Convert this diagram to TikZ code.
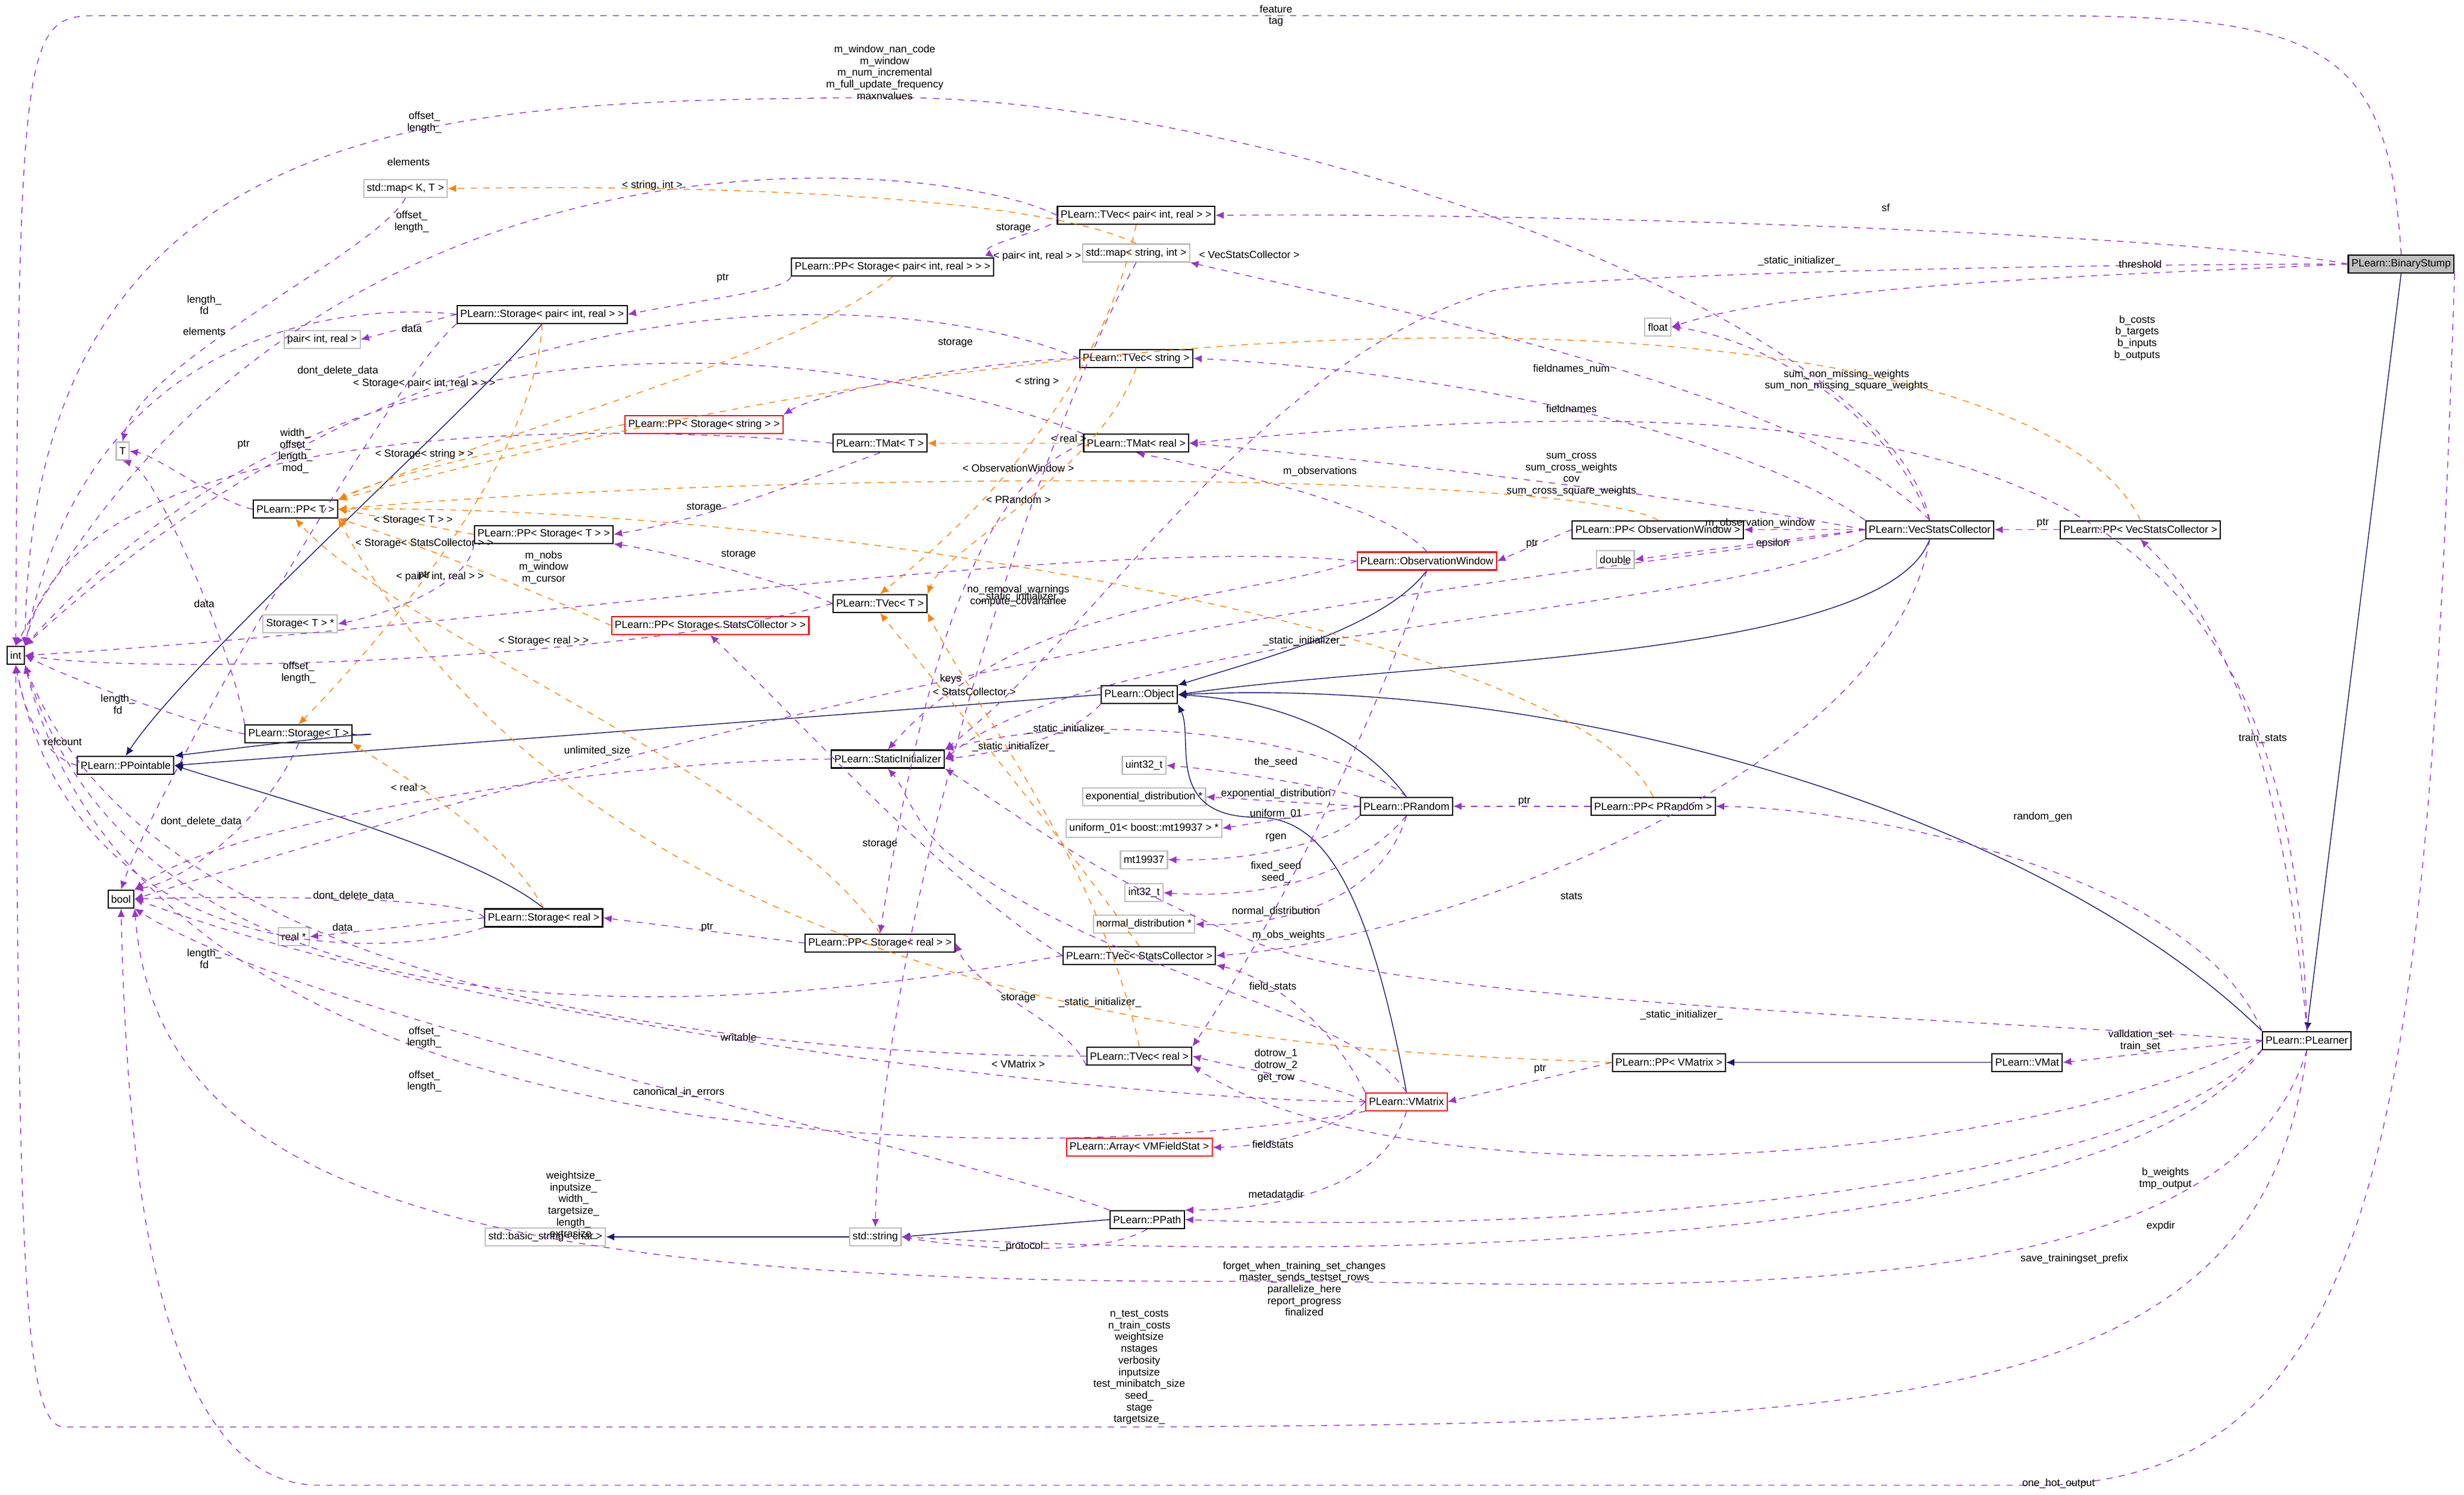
\documentclass[tikz,border=0pt]{standalone}
\usepackage{fontspec}
\setmainfont{Liberation Sans}
\usetikzlibrary{arrows.meta}
\begin{document}
\begin{tikzpicture}[x=0.02643cm,y=-0.02643cm,
 every node/.style={font=\fontsize{5}{5.6}\selectfont},
 cls/.style={draw=black,semithick,minimum height=0.30cm,inner sep=1.5pt,fill=white},
 gcls/.style={draw=black!25,semithick,minimum height=0.30cm,inner sep=1.5pt,fill=white},
 rcls/.style={draw=red,semithick,minimum height=0.30cm,inner sep=1.5pt,fill=white},
 dep/.style={draw={rgb,255:red,153;green,50;blue,204},dashed,thin,-{Latex[length=4pt,width=3.5pt]}},
 tmpl/.style={draw=orange,dashed,thin,-{Latex[length=4pt,width=3.5pt]}},
 inh/.style={draw={rgb,255:red,25;green,25;blue,112},thin,-{Latex[length=4pt,width=3.5pt]}},
 lbl/.style={align=center,inner sep=0pt}]
\useasboundingbox (0,0) rectangle (1568,951);
% nodes
\node[cls,fill=black!25] (bs) at (1528,168) {PLearn::BinaryStump};
\node[cls] (pl) at (1468,662) {PLearn::PLearner};
\node[cls] (vmat) at (1290,676) {PLearn::VMat};
\node[cls] (ppvm) at (1062,676) {PLearn::PP< VMatrix >};
\node[rcls] (vm) at (895,701) {PLearn::VMatrix};
\node[cls] (ppath) at (730,776) {PLearn::PPath};
\node[gcls] (str) at (557,787) {std::string};
\node[gcls] (bstr) at (347,787) {std::basic\_string< char >};
\node[rcls] (arr) at (725,730) {PLearn::Array< VMFieldStat >};
\node[cls] (tvr) at (725,672) {PLearn::TVec< real >};
\node[gcls] (nd) at (728,588) {normal\_distribution *};
\node[gcls] (i32) at (728,568) {int32\_t};
\node[gcls] (mt) at (728,547) {mt19937};
\node[gcls] (u01) at (728,527) {uniform\_01< boost::mt19937 > *};
\node[gcls] (ed) at (728,507) {exponential\_distribution *};
\node[gcls] (u32) at (728,487) {uint32\_t};
\node[cls] (prand) at (895,513) {PLearn::PRandom};
\node[cls] (pprand) at (1052,513) {PLearn::PP< PRandom >};
\node[cls] (tvsc) at (725,608) {PLearn::TVec< StatsCollector >};
\node[cls] (ppsr) at (560,600) {PLearn::PP< Storage< real > >};
\node[cls] (si) at (565,483) {PLearn::StaticInitializer};
\node[cls] (obj) at (725,442) {PLearn::Object};
\node[rcls] (ow) at (908,357) {PLearn::ObservationWindow};
\node[cls] (ppow) at (1055,337) {PLearn::PP< ObservationWindow >};
\node[cls] (vsc) at (1228,337) {PLearn::VecStatsCollector};
\node[cls] (ppvsc) at (1362,337) {PLearn::PP< VecStatsCollector >};
\node[gcls] (dbl) at (1028,356) {double};
\node[gcls] (flt) at (1055,208) {float};
\node[cls] (tvp) at (723,137) {PLearn::TVec< pair< int, real > >};
\node[gcls] (msi) at (723,161) {std::map< string, int >};
\node[cls] (tvs) at (723,228) {PLearn::TVec< string >};
\node[cls] (tmr) at (723,282) {PLearn::TMat< real >};
\node[cls] (tmt) at (560,282) {PLearn::TMat< T >};
\node[cls] (tvt) at (560,384) {PLearn::TVec< T >};
\node[cls] (ppsp) at (568,170) {PLearn::PP< Storage< pair< int, real > > >};
\node[gcls] (mkt) at (258,120) {std::map< K, T >};
\node[cls] (stp) at (345,200) {PLearn::Storage< pair< int, real > >};
\node[gcls] (pir) at (205,216) {pair< int, real >};
\node[rcls] (ppss) at (448,270) {PLearn::PP< Storage< string > >};
\node[gcls] (T) at (78,287) {T};
\node[cls] (ppt) at (188,324) {PLearn::PP< T >};
\node[cls] (ppst) at (346,340) {PLearn::PP< Storage< T > >};
\node[gcls] (stps) at (191,397) {Storage< T > *};
\node[rcls] (ppssc) at (452,398) {PLearn::PP< Storage< StatsCollector > >};
\node[cls] (int) at (10,417) {int};
\node[cls] (ppo) at (80,487) {PLearn::PPointable};
\node[cls] (stt) at (190,467) {PLearn::Storage< T >};
\node[cls] (bool) at (77,572) {bool};
\node[gcls] (rp) at (187,596) {real *};
\node[cls] (str_r) at (346,584) {PLearn::Storage< real >};

% inheritance
\draw[inh] (bs.south) -- (pl.north);
\draw[inh] (pl.north west) .. controls (1300,520) and (1000,430) .. (obj.east);
\draw[inh] (vsc.south) .. controls (1200,420) and (900,420) .. (obj.east);
\draw[inh] (ow.south) .. controls (880,400) and (800,420) .. (obj.north east);
\draw[inh] (prand.north) .. controls (860,460) and (800,445) .. (obj.east);
\draw[inh] (vm.north) .. controls (870,560) and (840,520) .. (800,520) .. controls (740,520) and (760,470) .. (obj.south east);
\draw[inh] (obj.west) -- (ppo.east);
\draw[inh] (stt.east) .. controls (230,470) and (280,460) .. (ppo.north east);
\draw[inh] (str_r.north) .. controls (300,540) and (150,500) .. (ppo.east);
\draw[inh] (stp.south) .. controls (300,260) and (120,420) .. (ppo.north);
\draw[inh] (vmat.west) -- (ppvm.east);
\draw[inh] (ppath.west) -- (str.east);
\draw[inh] (str.west) -- (bstr.east);

% BinaryStump dependencies
\draw[dep] (bs.north) .. controls (1520,30) and (1480,10) .. (1300,10) -- (60,10) .. controls (15,10) and (12,30) .. (int.north);
\node[lbl] (l1) at (812,10) {feature\\tag};
\draw[dep] (bs.west) .. controls (1400,150) and (1000,135) .. (tvp.east);
\node[lbl] (l2) at (1200,132) {sf};
\draw[dep] (bs.west) .. controls (1300,168) and (1000,175) .. (950,185) .. controls (800,230) and (700,400) .. (si.north east);
\node[lbl] (l3) at (1145,166) {\_static\_initializer\_};
\draw[dep] (bs.west) .. controls (1350,175) and (1150,180) .. (flt.east);
\node[lbl] (l4) at (1362,168) {threshold};
\draw[dep] (bs.south east) .. controls (1545,700) and (1520,940) .. (1300,945) -- (200,945) .. controls (90,940) and (80,700) .. (bool.south);
\node[lbl] (l5) at (1310,944) {one\_hot\_output};

% PLearner
\draw[dep] (pl.west) -- (vmat.east);
\node[lbl] (l6) at (1362,662) {validation\_set\\train\_set};
\draw[dep] (pl.north) .. controls (1450,450) and (1400,380) .. (ppvsc.south);
\node[lbl] (l7) at (1440,470) {train\_stats};
\draw[dep] (pl.north west) .. controls (1400,560) and (1200,515) .. (pprand.east);
\node[lbl] (l8) at (1300,520) {random\_gen};
\draw[dep] (pl.west) .. controls (1300,740) and (900,770) .. (tvr.south east);
\node[lbl] (l9) at (1378,750) {b\_weights\\tmp\_output};
\draw[dep] (pl.south west) .. controls (1350,760) and (1000,785) .. (ppath.east);
\node[lbl] (l10) at (1375,780) {expdir};
\draw[dep] (pl.south west) .. controls (1350,790) and (900,805) .. (str.east);
\node[lbl] (l11) at (1320,801) {save\_trainingset\_prefix};
\draw[dep] (pl.south) .. controls (1420,830) and (1100,820) .. (830,815) .. controls (300,820) and (100,760) .. (bool.south east);
\node[lbl] (l12) at (830,820) {forget\_when\_training\_set\_changes\\master\_sends\_testset\_rows\\parallelize\_here\\report\_progress\\finalized};
\draw[dep] (pl.south) .. controls (1440,900) and (1200,905) .. (725,908) -- (40,908) .. controls (15,905) and (12,800) .. (int.south);
\node[lbl] (l13) at (725,870) {n\_test\_costs\\n\_train\_costs\\weightsize\\nstages\\verbosity\\inputsize\\test\_minibatch\_size\\seed\_\\stage\\targetsize\_};
\draw[dep] (pl.west) .. controls (1300,650) and (900,640) .. (800,600) .. controls (700,560) and (650,520) .. (si.south east);
\node[lbl] (l14) at (1070,646) {\_static\_initializer\_};
\draw[dep] (pl.north) .. controls (1460,320) and (1300,230) .. (tmr.east);
\node[lbl] (l15) at (1360,215) {b\_costs\\b\_targets\\b\_inputs\\b\_outputs};

% VecStatsCollector
\draw[dep] (ppvsc.west) -- (vsc.east);
\node[lbl] (l16) at (1300,333) {ptr};
\draw[dep] (vsc.west) -- (ppow.east);
\node[lbl] (l17) at (1120,333) {m\_observation\_window};
\draw[dep] (vsc.west) -- (dbl.east);
\node[lbl] (l18) at (1128,346) {epsilon};
\draw[dep] (vsc.west) .. controls (1100,320) and (900,295) .. (tmr.east);
\node[lbl] (l19) at (1000,302) {sum\_cross\\sum\_cross\_weights\\cov\\sum\_cross\_square\_weights};
\draw[dep] (vsc.south) .. controls (1200,500) and (900,600) .. (tvsc.east);
\node[lbl] (l20) at (1000,570) {stats};
\draw[dep] (vsc.north west) .. controls (1100,270) and (900,235) .. (tvs.east);
\node[lbl] (l21) at (1000,260) {fieldnames};
\draw[dep] (vsc.north) .. controls (1150,250) and (900,200) .. (msi.south east);
\node[lbl] (l22) at (1000,235) {fieldnames\_num};
\draw[dep] (vsc.north) .. controls (1200,260) and (1120,215) .. (flt.east);
\node[lbl] (l23) at (1175,242) {sum\_non\_missing\_weights\\sum\_non\_missing\_square\_weights};
\draw[dep] (vsc.north) .. controls (1200,200) and (800,60) .. (560,62) .. controls (300,65) and (20,60) .. (int.north east);
\node[lbl] (l24) at (563,46) {m\_window\_nan\_code\\m\_window\\m\_num\_incremental\\m\_full\_update\_frequency\\maxnvalues};
\draw[dep] (vsc.south west) .. controls (1100,390) and (700,400) .. (si.east);
\node[lbl] (l25) at (830,408) {\_static\_initializer\_};
\draw[dep] (vsc.west) .. controls (1000,370) and (700,380) .. (bool.east);
\node[lbl] (l26) at (648,379) {no\_removal\_warnings\\compute\_covariance};
\draw[tmpl] (ppvsc.north) .. controls (1300,200) and (800,160) .. (ppt.north east);
\node[lbl] (l27) at (795,162) {< VecStatsCollector >};

% ObservationWindow
\draw[dep] (ppow.west) -- (ow.east);
\node[lbl] (l28) at (975,346) {ptr};
\draw[dep] (ow.north) .. controls (880,320) and (780,300) .. (tmr.south);
\node[lbl] (l29) at (840,300) {m\_observations};
\draw[dep] (ow.south) .. controls (860,500) and (790,620) .. (tvr.north east);
\node[lbl] (l30) at (820,595) {m\_obs\_weights};
\draw[dep] (ow.west) .. controls (700,340) and (300,400) .. (int.east);
\node[lbl] (l31) at (346,361) {m\_nobs\\m\_window\\m\_cursor};
\draw[dep] (ow.west) .. controls (800,380) and (650,380) .. (si.north);
\node[lbl] (l32) at (650,380) {\_static\_initializer\_};
\draw[tmpl] (ppow.north) .. controls (1000,300) and (500,298) .. (ppt.east);
\node[lbl] (l33) at (648,298) {< ObservationWindow >};

% VMatrix
\draw[dep] (ppvm.west) -- (vm.east);
\node[lbl] (l34) at (980,680) {ptr};
\draw[dep] (vm.north west) .. controls (840,640) and (800,620) .. (tvsc.south east);
\node[lbl] (l35) at (810,628) {field\_stats};
\draw[dep] (vm.west) .. controls (850,720) and (800,730) .. (arr.east);
\node[lbl] (l36) at (810,728) {fieldstats};
\draw[dep] (vm.west) .. controls (850,690) and (790,680) .. (tvr.east);
\node[lbl] (l37) at (812,678) {dotrow\_1\\dotrow\_2\\get\_row};
\draw[dep] (vm.south) .. controls (880,760) and (800,770) .. (ppath.north east);
\node[lbl] (l38) at (812,760) {metadatadir};
\draw[dep] (vm.south west) .. controls (700,740) and (100,760) .. (int.south east);
\node[lbl] (l39) at (365,767) {weightsize\_\\inputsize\_\\width\_\\targetsize\_\\length\_\\extrasize\_};
\draw[dep] (vm.west) .. controls (700,700) and (300,650) .. (bool.east);
\node[lbl] (l40) at (470,660) {writable};
\draw[dep] (vm.north) .. controls (860,640) and (700,620) .. (600,540) .. controls (580,520) and (575,500) .. (si.south);
\node[lbl] (l41) at (700,638) {\_static\_initializer\_};
\draw[tmpl] (ppvm.west) .. controls (900,670) and (400,670) .. (ppt.south east);
\node[lbl] (l42) at (648,677) {< VMatrix >};

% PPath
\draw[dep] (ppath.south) .. controls (700,800) and (620,795) .. (str.east);
\node[lbl] (l43) at (650,793) {\_protocol};
\draw[dep] (ppath.north west) .. controls (600,730) and (200,650) .. (bool.south east);
\node[lbl] (l44) at (432,695) {canonical\_in\_errors};

% PRandom
\draw[dep] (pprand.west) -- (prand.east);
\node[lbl] (l45) at (970,510) {ptr};
\draw[dep] (prand.north west) .. controls (840,500) and (780,490) .. (u32.east);
\node[lbl] (l46) at (812,485) {the\_seed};
\draw[dep] (prand.west) -- (ed.east);
\node[lbl] (l47) at (812,505) {exponential\_distribution};
\draw[dep] (prand.west) -- (u01.east);
\node[lbl] (l48) at (812,518) {uniform\_01};
\draw[dep] (prand.south west) .. controls (850,535) and (800,548) .. (mt.east);
\node[lbl] (l49) at (812,533) {rgen};
\draw[dep] (prand.south) .. controls (860,560) and (800,572) .. (i32.east);
\node[lbl] (l50) at (812,555) {fixed\_seed\\seed\_};
\draw[dep] (prand.south) .. controls (880,570) and (820,590) .. (nd.east);
\node[lbl] (l51) at (812,580) {normal\_distribution};
\draw[dep] (prand.north) .. controls (850,470) and (700,450) .. (si.north east);
\node[lbl] (l52) at (680,464) {\_static\_initializer\_};
\draw[tmpl] (pprand.north) .. controls (1000,400) and (500,320) .. (ppt.east);
\node[lbl] (l53) at (648,318) {< PRandom >};

% Object, PPointable
\draw[dep] (obj.south west) .. controls (680,470) and (640,478) .. (si.east);
\node[lbl] (l54) at (645,475) {\_static\_initializer\_};
\draw[dep] (ppo.west) .. controls (25,480) and (15,450) .. (int.south);
\node[lbl] (l55) at (40,472) {refcount};
\draw[dep] (si.west) .. controls (400,483) and (150,520) .. (bool.north east);
\node[lbl] (l56) at (380,478) {unlimited\_size};

% TVec / TMat / Storage family
\draw[dep] (tvr.south west) .. controls (680,650) and (620,630) .. (ppsr.east);
\node[lbl] (l57) at (648,635) {storage};
\draw[dep] (tvr.west) .. controls (500,672) and (100,640) .. (int.south east);
\node[lbl] (l58) at (270,660) {offset\_\\length\_};
\draw[tmpl] (tvr.north) .. controls (700,550) and (620,450) .. (tvt.south east);
\draw[dep] (tvsc.west) .. controls (600,560) and (520,470) .. (ppssc.south);
\node[lbl] (l59) at (560,537) {storage};
\draw[dep] (tvsc.west) .. controls (500,640) and (100,690) .. (int.south east);
\node[lbl] (l60) at (270,688) {offset\_\\length\_};
\draw[tmpl] (tvsc.north) .. controls (650,500) and (600,440) .. (tvt.south);
\node[lbl] (l61) at (620,440) {< StatsCollector >};
\draw[dep] (tmr.west) .. controls (650,300) and (600,340) .. (ppsr.north);
\draw[dep] (tmr.north west) .. controls (600,240) and (250,150) .. (int.north east);
\node[lbl] (l62) at (262,141) {offset\_\\length\_};
\draw[tmpl] (tmr.west) -- (tmt.east);
\node[lbl] (l63) at (680,279) {< real >};
\draw[dep] (tvs.west) .. controls (620,230) and (520,250) .. (ppss.north east);
\node[lbl] (l64) at (608,218) {storage};
\draw[dep] (tvs.west) .. controls (600,190) and (300,150) .. (int.north east);
\draw[tmpl] (tvs.south) .. controls (700,300) and (600,350) .. (tvt.north east);
\node[lbl] (l65) at (660,243) {< string >};
\draw[dep] (tvp.west) .. controls (680,145) and (620,155) .. (ppsp.north east);
\node[lbl] (l66) at (645,145) {storage};
\draw[dep] (tvp.west) .. controls (600,100) and (200,60) .. (int.north);
\node[lbl] (l67) at (270,78) {offset\_\\length\_};
\draw[tmpl] (tvp.south) .. controls (700,250) and (620,330) .. (tvt.north);
\node[lbl] (l68) at (660,163) {< pair< int, real > >};
\draw[tmpl] (msi.north) .. controls (650,120) and (400,118) .. (mkt.east);
\node[lbl] (l69) at (415,118) {< string, int >};
\draw[dep] (msi.south) .. controls (650,300) and (560,600) .. (str.north);
\node[lbl] (l70) at (605,432) {keys};
\draw[dep] (mkt.south) .. controls (240,160) and (90,230) .. (T.north);
\node[lbl] (l71) at (130,211) {elements};
\node[lbl] (l72) at (260,103) {elements};
\draw[dep] (ppsp.south west) .. controls (500,185) and (450,190) .. (stp.east);
\node[lbl] (l73) at (460,177) {ptr};
\draw[tmpl] (ppsp.south) .. controls (500,230) and (300,280) .. (ppt.north east);
\node[lbl] (l74) at (270,244) {< Storage< pair< int, real > > >};
\draw[dep] (stp.west) -- (pir.east);
\node[lbl] (l75) at (262,209) {data};
\draw[dep] (stp.west) .. controls (250,195) and (60,190) .. (int.north east);
\node[lbl] (l76) at (130,194) {length\_\\fd};
\draw[dep] (stp.south west) .. controls (250,240) and (100,500) .. (bool.north);
\node[lbl] (l77) at (215,236) {dont\_delete\_data};
\draw[tmpl] (stp.south) .. controls (340,300) and (230,420) .. (stt.north);
\node[lbl] (l78) at (280,367) {< pair< int, real > >};
\draw[tmpl] (ppss.west) .. controls (350,280) and (250,300) .. (ppt.north east);
\node[lbl] (l79) at (270,289) {< Storage< string > >};
\draw[dep] (tmt.south) .. controls (500,310) and (450,330) .. (ppst.east);
\node[lbl] (l80) at (448,323) {storage};
\draw[dep] (tmt.west) .. controls (400,270) and (50,260) .. (int.north east);
\node[lbl] (l81) at (188,287) {width\_\\offset\_\\length\_\\mod\_};
\draw[tmpl] (ppst.west) -- (ppt.east);
\node[lbl] (l82) at (263,331) {< Storage< T > >};
\draw[dep] (ppst.south west) .. controls (300,370) and (250,390) .. (stps.east);
\node[lbl] (l83) at (270,366) {ptr};
\draw[dep] (tvt.west) .. controls (500,370) and (420,350) .. (ppst.south east);
\node[lbl] (l84) at (470,353) {storage};
\draw[dep] (tvt.west) .. controls (400,420) and (100,430) .. (int.east);
\node[lbl] (l85) at (190,428) {offset\_\\length\_};
\draw[tmpl] (ppssc.west) .. controls (350,380) and (250,340) .. (ppt.south east);
\node[lbl] (l86) at (270,346) {< Storage< StatsCollector > >};
\draw[dep] (ppt.west) .. controls (140,320) and (100,290) .. (T.east);
\node[lbl] (l87) at (155,283) {ptr};
\draw[dep] (stt.north west) .. controls (150,420) and (100,300) .. (T.south);
\node[lbl] (l88) at (130,384) {data};
\draw[dep] (stt.west) .. controls (120,460) and (40,430) .. (int.east);
\node[lbl] (l89) at (75,448) {length\_\\fd};
\draw[dep] (stt.south) .. controls (170,520) and (120,560) .. (bool.north east);
\node[lbl] (l90) at (128,523) {dont\_delete\_data};
\draw[dep] (str_r.west) -- (rp.east);
\node[lbl] (l91) at (218,590) {data};
\draw[dep] (str_r.west) .. controls (300,570) and (150,570) .. (bool.east);
\node[lbl] (l92) at (225,570) {dont\_delete\_data};
\draw[dep] (str_r.south west) .. controls (250,610) and (50,620) .. (int.south);
\node[lbl] (l93) at (130,610) {length\_\\fd};
\draw[tmpl] (str_r.north) .. controls (320,530) and (250,490) .. (stt.south east);
\node[lbl] (l94) at (260,501) {< real >};
\draw[dep] (ppsr.west) -- (str_r.east);
\node[lbl] (l95) at (450,590) {ptr};
\draw[tmpl] (ppsr.north) .. controls (500,500) and (250,400) .. (ppt.south);
\node[lbl] (l96) at (346,408) {< Storage< real > >};
\end{tikzpicture}
\end{document}
